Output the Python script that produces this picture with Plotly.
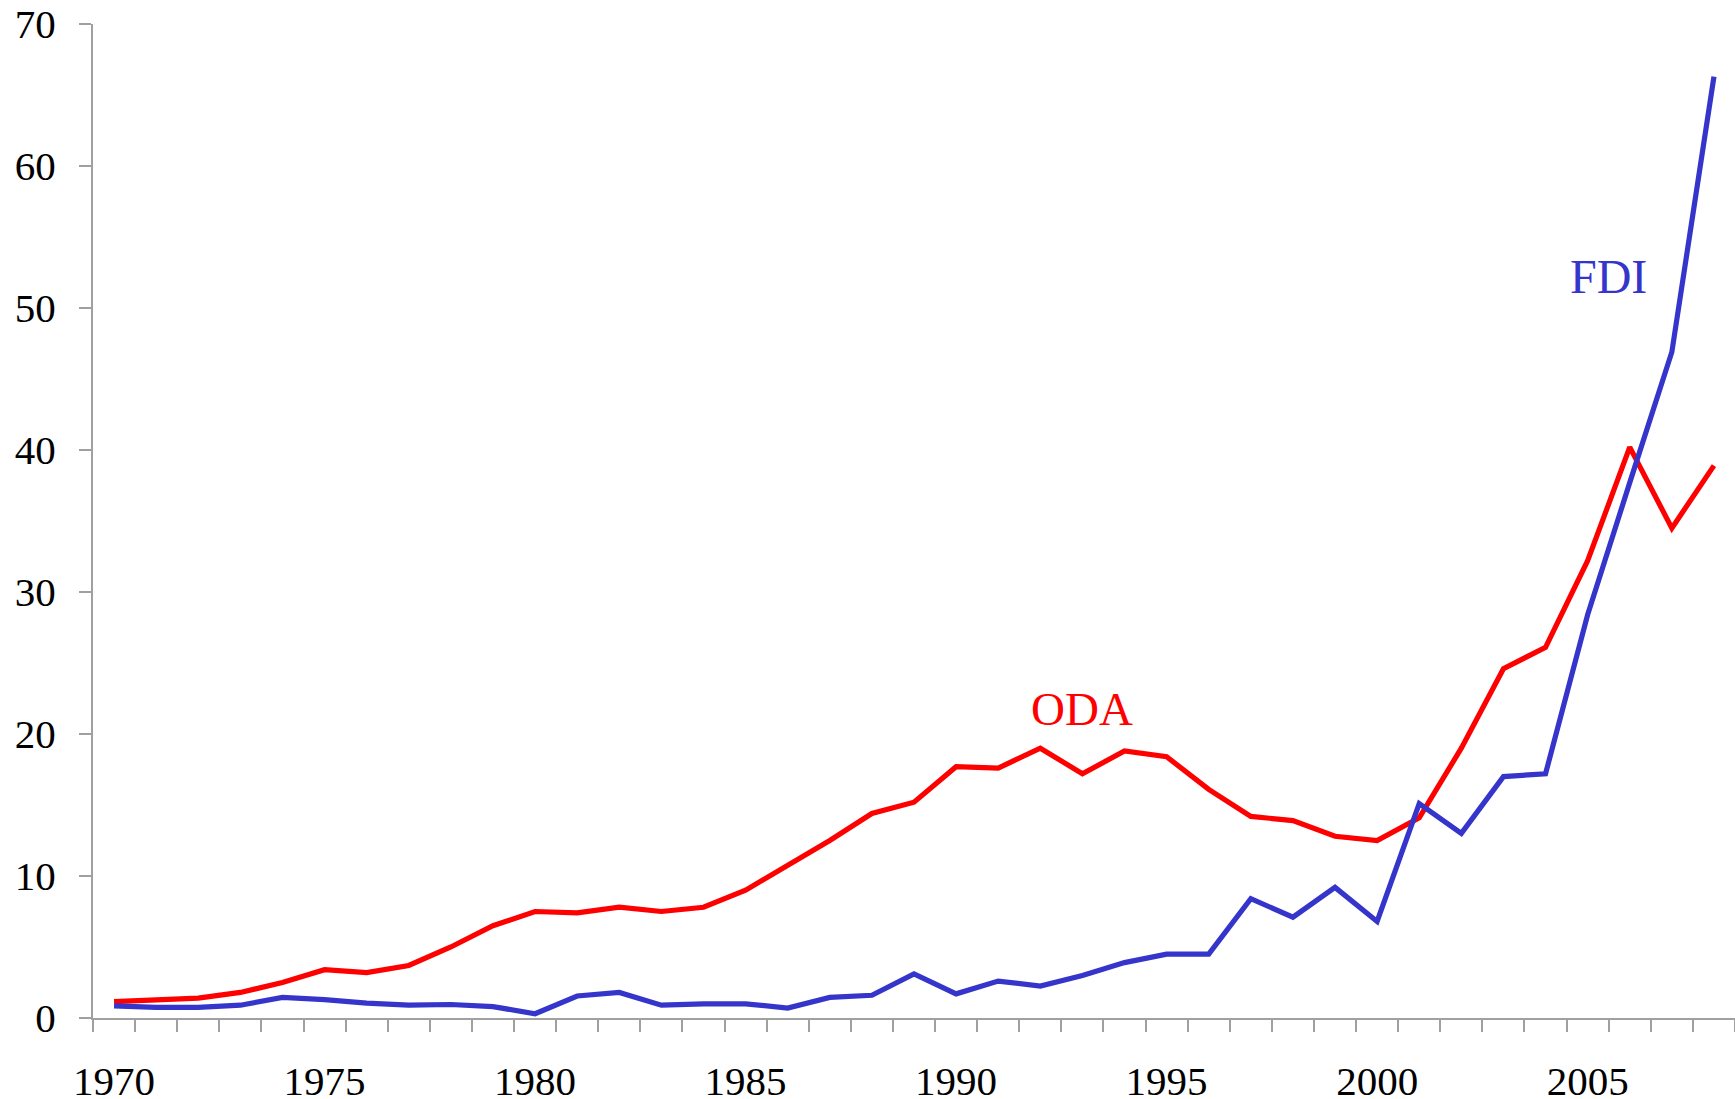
import plotly.graph_objects as go

years = list(range(1970, 2009))
oda = [1.15, 1.3, 1.4, 1.8, 2.5, 3.4, 3.2, 3.7, 5.0, 6.5,
       7.5, 7.4, 7.8, 7.5, 7.8, 9.0, 10.7, 12.5, 14.4, 15.2,
       17.7, 17.6, 19.0, 17.2, 18.8, 18.4, 16.1, 14.2, 13.9, 12.8,
       12.5, 14.1, 19.0, 24.6, 26.1, 32.2, 40.2, 34.5, 38.9]
fdi = [0.85, 0.75, 0.75, 0.9, 1.45, 1.3, 1.05, 0.9, 0.95, 0.8,
       0.3, 1.55, 1.8, 0.9, 1.0, 1.0, 0.7, 1.45, 1.6, 3.1,
       1.7, 2.6, 2.25, 3.0, 3.9, 4.5, 4.5, 8.4, 7.1, 9.2,
       6.8, 15.1, 13.0, 17.0, 17.2, 28.4, 37.7, 46.9, 66.3]
label_years = [1970, 1975, 1980, 1985, 1990, 1995, 2000, 2005]
y_ticks = [0, 10, 20, 30, 40, 50, 60, 70]

RED = "#FF0000"
BLUE = "#3535CC"
AXIS = "#A0A0A0"
FONT = "Liberation Serif, Times New Roman, serif"

fig = go.Figure()
fig.add_trace(go.Scatter(x=years, y=oda, mode="lines", name="ODA",
                         line=dict(color=RED, width=5.2)))
fig.add_trace(go.Scatter(x=years, y=fdi, mode="lines", name="FDI",
                         line=dict(color=BLUE, width=5.2)))

fig.add_annotation(x=1993.0, y=19.8, text="ODA", showarrow=False,
                   font=dict(family=FONT, size=47, color=RED),
                   xanchor="center", yanchor="bottom")
fig.add_annotation(x=2005.5, y=52.2, text="FDI", showarrow=False,
                   font=dict(family=FONT, size=48, color=BLUE),
                   xanchor="center", yanchor="middle")

fig.update_layout(
    width=1735, height=1099,
    margin=dict(l=93, r=0, t=24, b=81),
    paper_bgcolor="white", plot_bgcolor="white",
    showlegend=False,
    font=dict(family=FONT, size=41, color="black"),
)
fig.update_xaxes(
    range=[1969.5, 2008.5], automargin=False,
    tickmode="array", tickvals=label_years,
    ticktext=[str(v) for v in label_years],
    ticks="", showgrid=False, zeroline=False,
    showline=True, linecolor=AXIS, linewidth=2,
    ticklabelstandoff=26,
    minor=dict(tick0=1969.5, dtick=1, ticks="outside", ticklen=12,
               tickcolor=AXIS, tickwidth=2, showgrid=False),
)
fig.update_yaxes(
    range=[0, 70], automargin=False,
    tickmode="array", tickvals=y_ticks,
    ticks="outside", ticklen=12, tickcolor=AXIS, tickwidth=2,
    showgrid=False, zeroline=False,
    showline=True, linecolor=AXIS, linewidth=2,
    ticklabelstandoff=15,
)

fig.write_html(
    "out.html",
    config={"displayModeBar": False},
    post_script="document.body.style.margin='0';document.body.style.overflow='hidden';",
)
